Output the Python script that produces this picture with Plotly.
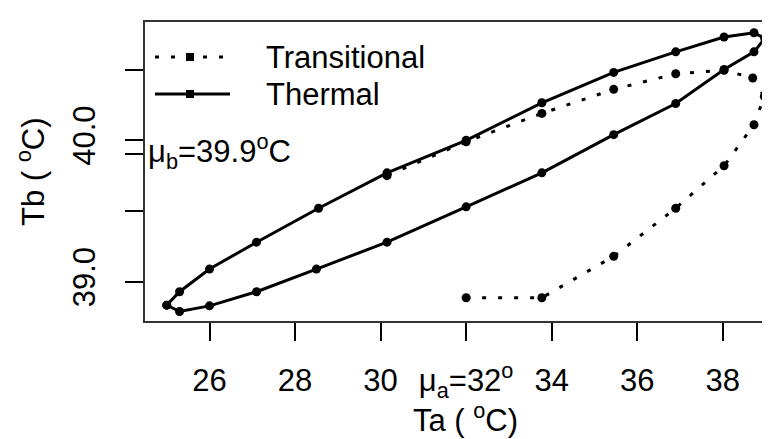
import plotly.graph_objects as go

# Thermal loop (closed)
thermal_x = [25.0, 25.3, 26.0, 27.1, 28.55, 30.15, 32.0, 33.77, 35.45, 36.9, 38.03, 38.73, 38.98,
             38.73, 38.03, 36.9, 35.45, 33.77, 32.0, 30.15, 28.5, 27.1, 26.0, 25.3, 25.0]
thermal_y = [38.835, 38.93, 39.09, 39.28, 39.52, 39.77, 40.0, 40.265, 40.48, 40.625, 40.73, 40.76, 40.72,
             40.625, 40.5, 40.26, 40.04, 39.77, 39.53, 39.28, 39.09, 38.93, 38.83, 38.79, 38.835]

# Transitional path
trans_x = [32.0, 33.77, 35.45, 36.9, 38.03, 38.73, 38.97, 38.7, 38.03, 36.9, 35.45, 33.77, 32.0, 30.15]
trans_y = [38.887, 38.887, 39.18, 39.52, 39.82, 40.11, 40.31, 40.44, 40.495, 40.47, 40.36, 40.19, 39.99, 39.75]

x_ticks = [26, 28, 30, 32, 34, 36, 38]
x_ticktext = ["26", "28", "30", "μ<sub>a</sub>=32<sup>o</sup>", "34", "36", "38"]
y_ticks = [39.0, 39.5, 39.9, 40.0, 40.5]
y_ticktext = ["39.0", "", "", "40.0", ""]

FONT = "Liberation Sans, Arial, sans-serif"
FS = 31

fig = go.Figure()
fig.add_trace(go.Scatter(x=trans_x, y=trans_y, mode="lines+markers",
                         line=dict(color="black", width=3, dash="4px,12px"),
                         marker=dict(color="black", size=9), name="Transitional", showlegend=False))
fig.add_trace(go.Scatter(x=thermal_x, y=thermal_y, mode="lines+markers",
                         line=dict(color="black", width=3),
                         marker=dict(color="black", size=9), name="Thermal", showlegend=False))

# legend drawn as keys + text (paper coordinates)
W, H = 770, 439
L, R, T, B = 137, 0, 14, 126
pw, ph = W - L - R, H - T - B
def px(xp):
    return (xp - L) / pw
def py(yp):
    return 1 - (yp - T) / ph

shapes = []
legend_items = [("Transitional", 49, "4px,12px"), ("Thermal", 86, "solid")]
annotations = []
for name, yy, dash in legend_items:
    shapes.append(dict(type="line", xref="paper", yref="paper", x0=px(147), x1=px(222), y0=py(yy), y1=py(yy),
                       line=dict(color="black", width=3, dash=dash)))
    shapes.append(dict(type="rect", xref="paper", yref="paper", x0=px(178), x1=px(186), y0=py(yy - 4), y1=py(yy + 4),
                       fillcolor="black", line=dict(width=0)))
    annotations.append(dict(text=name, xref="paper", yref="paper", x=px(256), y=py(yy), xanchor="left",
                            yanchor="middle", showarrow=False, font=dict(family=FONT, size=FS, color="black")))

annotations.append(dict(text="μ<sub>b</sub>=39.9<sup>o</sup>C", xref="paper", yref="y", x=0, y=39.9,
                        xanchor="left", yanchor="middle", xshift=1, yshift=3, showarrow=False,
                        font=dict(family=FONT, size=FS, color="black")))

# axis titles
annotations.append(dict(text="Ta ( <sup>o</sup>C)", xref="paper", yref="paper", x=px(457), y=py(410),
                        xanchor="center", yanchor="middle", showarrow=False,
                        font=dict(family=FONT, size=FS, color="black")))
annotations.append(dict(text="Tb ( <sup>o</sup>C)", xref="paper", yref="paper", x=px(23), y=py(164),
                        xanchor="center", yanchor="middle", showarrow=False, textangle=-90,
                        font=dict(family=FONT, size=FS, color="black")))

fig.update_layout(
    width=W, height=H, margin=dict(l=L, r=R, t=T, b=B),
    paper_bgcolor="white", plot_bgcolor="white",
    font=dict(family=FONT, size=FS, color="black"),
    shapes=shapes, annotations=annotations, showlegend=False,
    xaxis=dict(range=[24.492, 39.291], tickvals=x_ticks, ticktext=x_ticktext, automargin=False,
               ticks="outside", ticklen=18, tickwidth=2, tickcolor="black",
               showline=True, linecolor="#333", linewidth=2, mirror=True,
               showgrid=False, zeroline=False, ticklabelstandoff=13),
    yaxis=dict(range=[38.723, 40.836], tickvals=y_ticks, ticktext=y_ticktext, automargin=False,
               ticks="outside", ticklen=18, tickwidth=2, tickcolor="black", tickangle=-90,
               showline=True, linecolor="#333", linewidth=2, mirror=False,
               showgrid=False, zeroline=False, ticklabelstandoff=18),
)

fig.write_html("out.html")
